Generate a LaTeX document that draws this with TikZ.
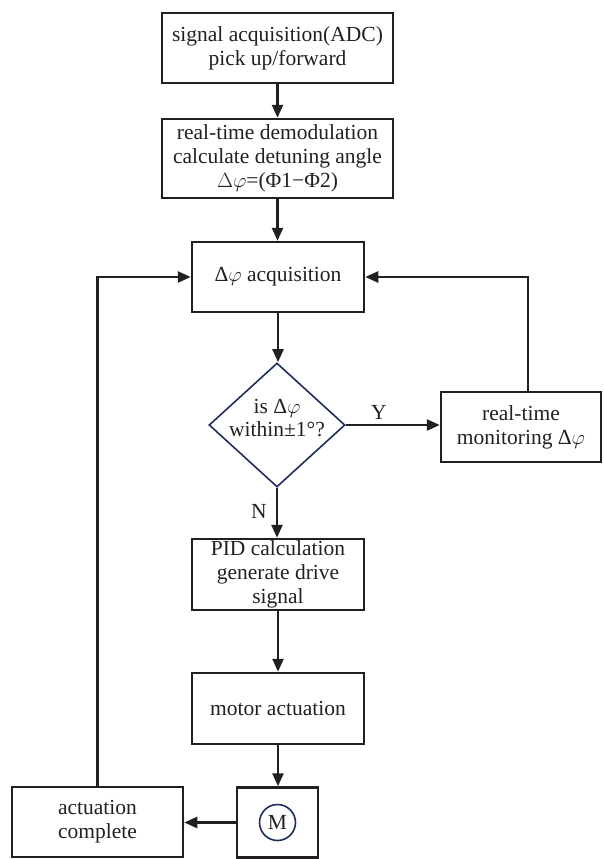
\documentclass[tikz,border=0pt]{standalone}
\usepackage{fontspec}
\setmainfont{Liberation Serif}
\usetikzlibrary{arrows.meta,shapes.geometric}
\definecolor{navy}{HTML}{1F2D5C}
\definecolor{ink}{HTML}{231F20}
\begin{document}
\begin{tikzpicture}[x=1pt,y=-1pt,
  font=\fontsize{21.5}{24}\selectfont,
  box/.style={draw=ink, line width=2.5pt, inner sep=0pt, align=center, text=ink},
  arr/.style={draw=ink, line width=2.5pt, -{Triangle[length=13pt,width=11pt]}},
  lbl/.style={text=ink, inner sep=0pt}]
\useasboundingbox (0,0) rectangle (603,859);
\node[box, minimum width=231pt, minimum height=70pt] (b1) at (277.5,48) {signal acquisition(ADC)\\pick up/forward};
\node[box, minimum width=231pt, minimum height=79pt] (b2) at (277.5,158.5) {real-time demodulation\\calculate detuning angle\\$\Delta\varphi$=(Φ1−Φ2)};
\node[box, minimum width=172pt, minimum height=70pt] (b3) at (278,277) {Δ$\varphi$ acquisition};
\node[diamond, draw=navy, line width=1.6pt, minimum width=136pt, minimum height=124pt, inner sep=0pt, aspect=1.1] (dia) at (277,425) {};
\node[lbl, align=center, font=\fontsize{21.5}{23}\selectfont] (diat) at (277,418) {is Δ$\varphi$\\within±1°?};
\node[box, minimum width=160pt, minimum height=70pt] (mon) at (521,427) {real-time\\monitoring Δ$\varphi$};
\node[box, minimum width=172pt, minimum height=71pt] (pid) at (278,574.5) {PID calculation\\generate drive\\signal};
\node[box, minimum width=172pt, minimum height=71pt] (mot) at (278,708.5) {motor actuation};
\node[box, minimum width=81pt, minimum height=70pt] (mb) at (277.5,822.5) {};
\node[circle, draw=navy, line width=1.6pt, minimum size=36pt, inner sep=0pt, text=ink] (mc) at (mb.center) {M};
\node[box, minimum width=171pt, minimum height=70pt] (act) at (97.5,822) {actuation\\complete};

\draw[arr] (b1.south) -- (b1.south |- b2.north);
\draw[arr] (b2.south) -- (b2.south |- b3.north);
\draw[arr] (b3.south) -- (b3.south |- dia.north);
\draw[arr] (dia.east) -- (dia.east -| mon.west);
\node[lbl] (ylab) at (379,412) {Y};
\draw[arr] (dia.south) -- (dia.south |- pid.north);
\node[lbl] (nlab) at (259,511) {N};
\draw[arr] ([xshift=7pt]mon.north) |- (b3.east);
\draw[arr] (pid.south) -- (pid.south |- mot.north);
\draw[arr] (mot.south) -- (mot.south |- mb.north);
\draw[arr] (mb.west) -- (mb.west -| act.east);
\draw[arr] (act.north) |- (b3.west);
\end{tikzpicture}
\end{document}
